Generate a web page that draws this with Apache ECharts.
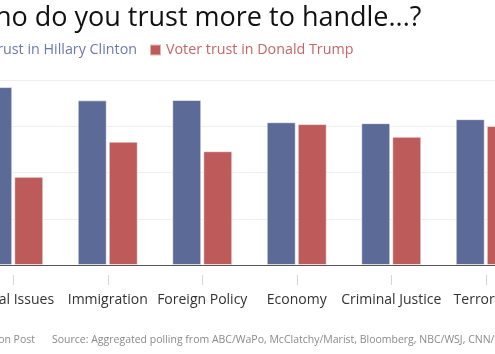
<!DOCTYPE html>
<html lang="en">
<head>
<meta charset="utf-8">
<title>Who do you trust more to handle...?</title>
<script src="https://cdn.jsdelivr.net/npm/echarts@6/dist/echarts.min.js"></script>
<style>
  html, body { margin: 0; padding: 0; width: 495px; height: 354px; overflow: hidden; background: #fff; }
  /* the reference is a crop of a wider graphic, so the chart is shifted left */
  #chart { position: absolute; left: -150px; top: 0; width: 720px; height: 354px; }
</style>
</head>
<body>
<div id="chart"></div>
<script>
// categories
var issues = ['Social Issues', 'Immigration', 'Foreign Policy', 'Economy', 'Criminal Justice', 'Terrorism'];
// voter trust, percent
var clinton = [57.7, 53.4, 53.5, 46.3, 46.0, 47.3];
var trump = [28.6, 40.0, 36.9, 45.7, 41.6, 45.1];
// y axis
var yMax = 60;
var yStep = 15;

var blue = '#5b6a96';
var red = '#bc5b5a';
var font = '"Open Sans", "Noto Sans", sans-serif';

var myChart = echarts.init(document.getElementById('chart'), null, { renderer: 'canvas' });

var option = {
  animation: false,
  textStyle: { fontFamily: font },
  title: {
    text: 'Who do you trust more to handle...?',
    left: 115,
    top: 0,
    textStyle: { fontFamily: font, fontSize: 27, fontWeight: 'normal', color: '#111' }
  },
  legend: [
    {
      data: [{ name: 'Voter trust in Hillary Clinton', textStyle: { color: '#6a7bab' } }],
      right: 433,
      top: 43,
      padding: 0,
      icon: 'rect',
      itemWidth: 11,
      itemHeight: 11,
      textStyle: { fontFamily: font, fontSize: 14.3 }
    },
    {
      data: [{ name: 'Voter trust in Donald Trump', textStyle: { color: '#c56666' } }],
      left: 299,
      top: 43,
      padding: 0,
      icon: 'rect',
      itemWidth: 11,
      itemHeight: 11,
      textStyle: { fontFamily: font, fontSize: 14.3 }
    }
  ],
  grid: { left: 116, right: 37, top: 80, bottom: 89 },
  xAxis: [
    {
      type: 'category',
      data: issues,
      axisLine: { lineStyle: { color: '#555', width: 1.2 } },
      axisTick: { show: false },
      axisLabel: { show: false }
    },
    {
      type: 'category',
      data: issues,
      position: 'bottom',
      offset: 10,
      axisLine: { show: false },
      axisTick: { show: true, alignWithLabel: true, length: 10, lineStyle: { color: '#d6d6d6' } },
      axisLabel: { interval: 0, margin: 18, fontFamily: font, fontSize: 14, color: '#333' }
    }
  ],
  yAxis: {
    type: 'value',
    min: 0,
    max: yMax,
    interval: yStep,
    axisLine: { show: false },
    axisTick: { show: false },
    axisLabel: { show: false },
    splitLine: { lineStyle: { color: '#efefef' } }
  },
  series: [
    {
      name: 'Voter trust in Hillary Clinton',
      type: 'bar',
      data: clinton,
      barWidth: 29,
      barGap: '7%',
      itemStyle: { color: blue, borderColor: 'rgba(255,255,255,0.55)', borderWidth: 1 }
    },
    {
      name: 'Voter trust in Donald Trump',
      type: 'bar',
      data: trump,
      barWidth: 29,
      barGap: '7%',
      itemStyle: { color: red, borderColor: 'rgba(255,255,255,0.55)', borderWidth: 1 }
    }
  ],
  graphic: [
    {
      type: 'text',
      right: 720 - 185,
      top: 335,
      style: { text: 'Graphic: The Washington Post', font: '10.5px ' + font, fill: '#8a8a8a', textAlign: 'right' }
    },
    {
      type: 'text',
      left: 202,
      top: 335,
      style: { text: 'Source: Aggregated polling from ABC/WaPo, McClatchy/Marist, Bloomberg, NBC/WSJ, CNN/ORC', font: '10.5px ' + font, fill: '#8a8a8a' }
    }
  ]
};

myChart.setOption(option);
</script>
</body>
</html>
